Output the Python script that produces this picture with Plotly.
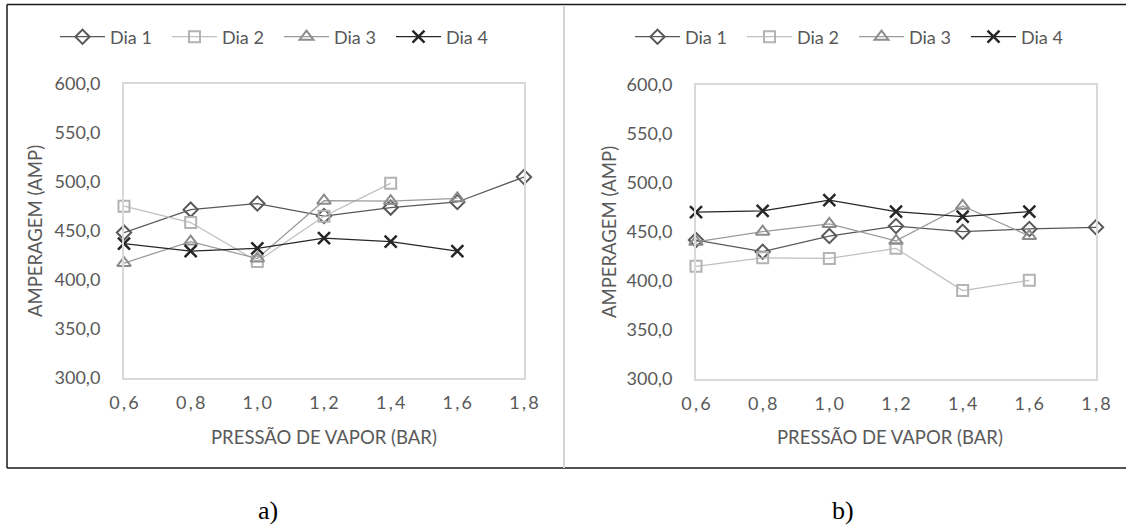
import plotly.graph_objects as go

# Steam pressure (bar) and motor amperage readings for four days, two lines (a, b)
pressao = [0.6, 0.8, 1.0, 1.2, 1.4, 1.6, 1.8]
tick_text = ["0\u2009,\u20096", "0\u2009,\u20098", "1\u2009,\u20090", "1\u2009,\u20092",
             "1\u2009,\u20094", "1\u2009,\u20096", "1\u2009,\u20098"]
y_ticks = [300, 350, 400, 450, 500, 550, 600]
y_text = ["300,0", "350,0", "400,0", "450,0", "500,0", "550,0", "600,0"]

# Panel a)
a_dia1 = [448.4, 471.8, 478.0, 465.3, 473.9, 479.6, 505.1]
a_dia2 = [475.3, 458.6, 419.0, 465.0, 498.6, None, None]
a_dia3 = [417.3, 439.2, 421.9, 480.9, 480.5, 483.3, None]
a_dia4 = [437.0, 429.5, 432.3, 442.7, 439.2, 429.5, None]

# Panel b)
b_dia1 = [441.8, 429.9, 445.9, 456.1, 450.3, 453.1, 454.8]
b_dia2 = [415.0, 423.6, 423.0, 433.3, 390.2, 400.7, None]
b_dia3 = [440.0, 450.3, 458.2, 441.0, 476.7, 445.9, None]
b_dia4 = [470.4, 471.6, 482.5, 470.9, 465.8, 470.9, None]

series_names = ["Dia 1", "Dia 2", "Dia 3", "Dia 4"]

W, H = 1128, 529
FONT = "Lato"
GREY_TXT = "#595959"

styles = [
    dict(line=dict(color="#595959", width=1.25),
         marker=dict(symbol="diamond-open", size=11, color="#595959", line=dict(width=2, color="#595959"))),
    dict(line=dict(color="#bfbfbf", width=1.25),
         marker=dict(symbol="square-open", size=11, color="#b3b3b3", line=dict(width=2, color="#b3b3b3"))),
    dict(line=dict(color="#9a9a9a", width=1.25),
         marker=dict(symbol="triangle-up-open", size=12, color="#8c8c8c", line=dict(width=2, color="#8c8c8c"))),
    dict(line=dict(color="#262626", width=1.25),
         marker=dict(symbol="x-thin-open", size=12, color="#262626", line=dict(width=2.5, color="#262626"))),
]


def px(x):
    return x / W


def py(y):
    return (H - y) / H


fig = go.Figure()

panels = [
    ([a_dia1, a_dia2, a_dia3, a_dia4], "x", "y", "legend"),
    ([b_dia1, b_dia2, b_dia3, b_dia4], "x2", "y2", "legend2"),
]
for data, xa, ya, leg in panels:
    for name, vals, st in zip(series_names, data, styles):
        fig.add_trace(go.Scatter(
            x=pressao, y=vals, name=name, mode="lines+markers",
            line=st["line"], marker=st["marker"], xaxis=xa, yaxis=ya,
            legend=leg, cliponaxis=False, connectgaps=False,
        ))

axis_common = dict(
    showgrid=False, zeroline=False, showline=True, mirror=True,
    linecolor="#d9d9d9", linewidth=2, ticks="",
    tickfont=dict(family=FONT, size=18, color=GREY_TXT),
)

legend_common = dict(
    orientation="h", xanchor="left", yanchor="middle",
    entrywidth=52, entrywidthmode="pixels", itemwidth=45,
    font=dict(family=FONT, size=18, color=GREY_TXT), bgcolor="rgba(0,0,0,0)",
)

fig.update_layout(
    width=W, height=H,
    margin=dict(l=0, r=0, t=0, b=0, pad=0, autoexpand=False),
    paper_bgcolor="white", plot_bgcolor="white",
    font=dict(family=FONT, color=GREY_TXT),
    xaxis=dict(domain=[px(124), px(524)], range=[0.6, 1.8], anchor="y",
               tickvals=pressao, ticktext=tick_text, ticklabelstandoff=7, **axis_common),
    yaxis=dict(domain=[py(378), py(84)], range=[300, 600], anchor="x",
               tickvals=y_ticks, ticktext=y_text, ticklabelstandoff=18, **axis_common),
    xaxis2=dict(domain=[px(696), px(1096)], range=[0.6, 1.8], anchor="y2",
                tickvals=pressao, ticktext=tick_text, ticklabelstandoff=7, **axis_common),
    yaxis2=dict(domain=[py(379), py(85)], range=[300, 600], anchor="x2",
                tickvals=y_ticks, ticktext=y_text, ticklabelstandoff=18, **axis_common),
    legend=dict(x=px(55), y=py(37), **legend_common),
    legend2=dict(x=px(630), y=py(37), **legend_common),
    showlegend=True,
)

# Axis titles
for cx in (324, 890):
    fig.add_annotation(x=px(cx), y=py(437), xref="paper", yref="paper", showarrow=False,
                       xanchor="center", yanchor="middle",
                       text="PRESSÃO DE VAPOR (BAR)",
                       font=dict(family=FONT, size=18.5, color=GREY_TXT))
for cx, cy in ((35, 231), (609, 232)):
    fig.add_annotation(x=px(cx), y=py(cy), xref="paper", yref="paper", showarrow=False,
                       xanchor="center", yanchor="middle",
                       text="AMPERAGEM (AMP)", textangle=-90,
                       font=dict(family=FONT, size=18.5, color=GREY_TXT))

# Panel captions
for cx, lab in ((268, "a)"), (843, "b)")):
    fig.add_annotation(x=px(cx), y=py(510), xref="paper", yref="paper", showarrow=False,
                       xanchor="center", yanchor="middle",
                       text=lab, font=dict(family="Liberation Serif", size=26, color="#000000"))

# Outer frame and panel divider
frame = dict(type="line", xref="paper", yref="paper", line=dict(color="#1a1a1a", width=1.5))
fig.add_shape(x0=px(7), x1=px(1126), y0=py(4.5), y1=py(4.5), **frame)
fig.add_shape(x0=px(7), x1=px(1126), y0=py(468), y1=py(468), **frame)
fig.add_shape(x0=px(7), x1=px(7), y0=py(4.5), y1=py(468), **frame)
fig.add_shape(type="line", xref="paper", yref="paper", x0=px(564), x1=px(564),
              y0=py(5), y1=py(468), line=dict(color="#d4d4d4", width=2))

fig.write_html("out.html")
